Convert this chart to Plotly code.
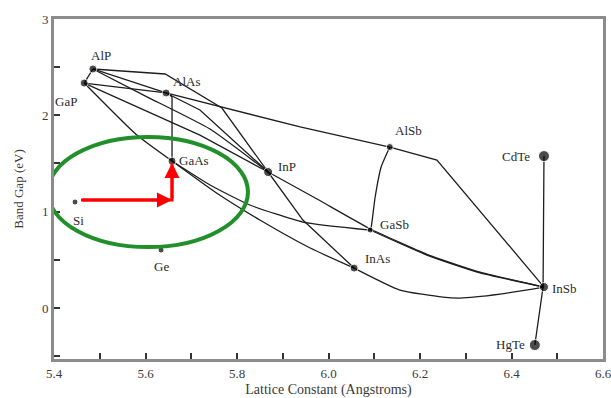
import plotly.graph_objects as go

# ---------------- data ----------------
names = ["AlP", "GaP", "AlAs", "GaAs", "Si", "Ge", "InP", "AlSb", "GaSb", "InAs", "InSb", "CdTe", "HgTe"]
lattice = [5.485, 5.466, 5.645, 5.658, 5.446, 5.634, 5.868, 6.134, 6.091, 6.056, 6.471, 6.471, 6.451]
gap = [2.481, 2.335, 2.232, 1.525, 1.10, 0.601, 1.411, 1.671, 0.809, 0.414, 0.217, 1.577, -0.385]
dot_size = [8, 8, 8, 8, 6, 6, 9, 7, 6, 8, 9, 11, 11]

# alloy curves: (x list, y list)
alp_gap_x, alp_gap_y = [5.485, 5.466], [2.481, 2.335]
alp_alas_x, alp_alas_y = [5.485, 5.645], [2.481, 2.232]
gap_alas_x, gap_alas_y = [5.466, 5.645], [2.335, 2.232]
alas_gaas_x, alas_gaas_y = [5.650, 5.658, 5.658], [2.232, 2.19, 1.525]
gap_gaas_x, gap_gaas_y = [5.466, 5.581, 5.658], [2.335, 1.795, 1.525]
alp_inp_x, alp_inp_y = [5.485, 5.643, 5.767, 5.868], [2.481, 2.429, 2.076, 1.411]
alas_alsb_x, alas_alsb_y = [5.645, 5.767, 5.938, 6.134], [2.232, 2.086, 1.879, 1.671]
gap_inp_x, gap_inp_y = [5.466, 5.581, 5.719, 5.868], [2.335, 2.086, 1.795, 1.411]
alp_inp2_x, alp_inp2_y = [5.485, 5.600, 5.740, 5.868], [2.481, 2.200, 1.860, 1.411]
alas_inas_x, alas_inas_y = [5.645, 5.719, 5.868, 5.944, 6.056], [2.232, 2.055, 1.411, 0.913, 0.414]
alsb_insb_x, alsb_insb_y = [6.134, 6.237, 6.471], [1.671, 1.536, 0.217]
alsb_gasb_x, alsb_gasb_y = [6.134, 6.115, 6.102, 6.093, 6.091], [1.671, 1.463, 1.152, 0.830, 0.809]
gasb_insb_x, gasb_insb_y = [6.091, 6.215, 6.325, 6.471], [0.809, 0.549, 0.373, 0.217]
inp_insb_x, inp_insb_y = [5.868, 5.975, 6.091, 6.215, 6.325, 6.471], [1.411, 1.131, 0.822, 0.557, 0.380, 0.217]
gaas_gasb_x, gaas_gasb_y = [5.658, 5.741, 5.828, 5.944, 6.091], [1.525, 1.276, 1.069, 0.892, 0.809]
gaas_inas_x, gaas_inas_y = [5.658, 5.752, 5.850, 5.960, 6.056], [1.525, 1.204, 0.913, 0.622, 0.414]
inas_insb_x, inas_insb_y = [6.056, 6.156, 6.250, 6.287, 6.375, 6.471], [0.414, 0.186, 0.113, 0.103, 0.144, 0.217]
cdte_hgte_x, cdte_hgte_y = [6.471, 6.469, 6.451], [1.577, 0.217, -0.385]

# (x, y, drawn smooth?)
curves = [
    (alp_gap_x, alp_gap_y, False), (alp_alas_x, alp_alas_y, False), (gap_alas_x, gap_alas_y, False),
    (alas_gaas_x, alas_gaas_y, False), (gap_gaas_x, gap_gaas_y, True), (alp_inp_x, alp_inp_y, False),
    (alas_alsb_x, alas_alsb_y, False), (gap_inp_x, gap_inp_y, False), (alp_inp2_x, alp_inp2_y, True),
    (alas_inas_x, alas_inas_y, False), (alsb_insb_x, alsb_insb_y, False), (alsb_gasb_x, alsb_gasb_y, True),
    (gasb_insb_x, gasb_insb_y, True), (inp_insb_x, inp_insb_y, True), (gaas_gasb_x, gaas_gasb_y, True),
    (gaas_inas_x, gaas_inas_y, True), (inas_insb_x, inas_insb_y, True), (cdte_hgte_x, cdte_hgte_y, False),
]

# red arrow path (Si -> GaAs) and green ellipse bounds
arrow_x = [5.459, 5.658, 5.658]
arrow_y = [1.120, 1.120, 1.505]
ellipse_x = [5.387, 5.824]
ellipse_y = [0.632, 1.775]

x_ticks = [5.4, 5.6, 5.8, 6.0, 6.2, 6.4, 6.6]
y_ticks = [0, 1, 2, 3]

# label placement (pixel offsets, anchors)
label_pos = {
    "AlP": (8, 13, "center"), "GaP": (-18, -18, "center"), "AlAs": (5, 11, "left"),
    "GaAs": (5, 1, "left"), "Si": (-4, -18, "left"), "Ge": (0, -16, "center"),
    "InP": (8, 6, "left"), "AlSb": (3, 17, "left"), "GaSb": (8, 6, "left"),
    "InAs": (9, 10, "left"), "InSb": (6, -1, "left"), "CdTe": (-12, 0, "right"),
    "HgTe": (-8, 1, "right"),
}

SERIF = "Liberation Serif"

fig = go.Figure()
for cx, cy, smooth in curves:
    line = dict(color="#1e1e1e", width=1.3)
    if smooth:
        line.update(shape="spline", smoothing=0.5)
    fig.add_trace(go.Scatter(x=cx, y=cy, mode="lines", line=line, hoverinfo="skip", showlegend=False))

fig.add_trace(go.Scatter(x=lattice, y=gap, mode="markers", marker=dict(color="black", size=dot_size),
                         text=names, showlegend=False))

# red arrow lines
fig.add_trace(go.Scatter(x=arrow_x, y=arrow_y, mode="lines", line=dict(color="red", width=3), showlegend=False, hoverinfo="skip"))

annotations = []
for n, lx, ly in zip(names, lattice, gap):
    dx, dy, anc = label_pos[n]
    annotations.append(dict(x=lx, y=ly, text=n, showarrow=False, xanchor=anc, yanchor="middle",
                            xshift=dx, yshift=dy, font=dict(family=SERIF, size=13, color="#2a2a2a")))

# arrowheads
annotations.append(dict(x=arrow_x[1], y=arrow_y[1], ax=arrow_x[0], ay=arrow_y[0], xref="x", yref="y",
                        axref="x", ayref="y", showarrow=True, arrowhead=2, arrowsize=1.0, arrowwidth=3,
                        arrowcolor="red", text=""))
annotations.append(dict(x=arrow_x[2], y=arrow_y[2], ax=arrow_x[1], ay=arrow_y[1], xref="x", yref="y",
                        axref="x", ayref="y", showarrow=True, arrowhead=2, arrowsize=1.0, arrowwidth=3,
                        arrowcolor="red", text=""))

fig.add_shape(type="circle", xref="x", yref="y", x0=ellipse_x[0], x1=ellipse_x[1], y0=ellipse_y[0], y1=ellipse_y[1],
              line=dict(color="#22902a", width=4), layer="above")

axis_common = dict(showgrid=False, zeroline=False, showline=True, linecolor="#8c8c8c", linewidth=3, mirror=True,
                   ticks="inside", ticklen=6, tickwidth=1.5, tickcolor="#333", automargin=False,
                   ticklabeloverflow="allow",
                   tickfont=dict(family=SERIF, size=13, color="#3a3a3a"))

fig.update_layout(
    width=611, height=398, margin=dict(l=54, r=8, t=19, b=39),
    paper_bgcolor="white", plot_bgcolor="white",
    annotations=annotations,
    xaxis=dict(range=[5.4, 6.6], tickvals=x_ticks, ticktext=[f"{v:.1f}" for v in x_ticks],
               minor=dict(dtick=0.1, ticks="inside", ticklen=6, tickcolor="#333"),
               title=dict(text="Lattice Constant (Angstroms)", font=dict(family=SERIF, size=14, color="#3a3a3a"), standoff=12),
               **axis_common),
    yaxis=dict(range=[-0.53, 3.0], tickvals=y_ticks, ticktext=[str(v) for v in y_ticks],
               minor=dict(dtick=0.5, ticks="inside", ticklen=6, tickcolor="#333"),
               title=dict(text="Band Gap (eV)", font=dict(family=SERIF, size=13, color="#3a3a3a"), standoff=16),
               **axis_common),
)

fig.write_html("out.html")
